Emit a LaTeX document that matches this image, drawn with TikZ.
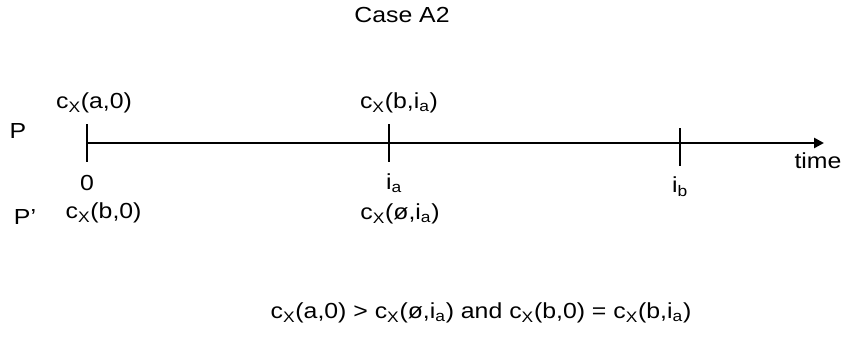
\documentclass[tikz,border=0pt]{standalone}
\usepackage{fontspec}
\setmainfont{Liberation Sans}[FakeStretch=1.14]
\usetikzlibrary{arrows.meta,positioning}
\newcommand{\cx}[1]{c\textsubscript{X}(#1)}
\begin{document}
\begin{tikzpicture}[font=\fontsize{15.5}{18}\selectfont,
  tick/.style={line width=2pt},
  lbl/.style={inner sep=1pt}]
  \useasboundingbox (0,0) rectangle (21.125,8.425);
  \node[lbl] (title) at (10.05,8.05) {Case A2};
  % time axis
  \coordinate (start) at (2.175,4.85);
  \coordinate (finish) at (20.6,4.85);
  \draw[line width=2pt,-{Triangle[length=7pt,width=7pt]}] (start) -- (finish);
  \coordinate (t0) at (2.175,4.85);
  \coordinate (ta) at (9.725,4.85);
  \coordinate (tb) at (17.0,4.75);
  \foreach \t in {t0,ta,tb}
    \draw[tick] ([yshift=-0.475cm]\t) -- ([yshift=0.475cm]\t);
  % labels
  \node[lbl] (p) at (0.45,5.15) {P};
  \node[lbl] (pp) at (0.625,3.0) {P’};
  \node[lbl] (ca0) at (2.35,5.85) {\cx{a,0}};
  \node[lbl] (zero) at (2.175,3.85) {0};
  \node[lbl] (cb0) at (2.59,3.1) {\cx{b,0}};
  \node[lbl] (cbia) at (9.975,5.85) {\cx{b,i\textsubscript{a}}};
  \node[lbl] (ia) at (9.85,3.85) {i\textsubscript{a}};
  \node[lbl] (cnia) at (10.0,3.075) {\cx{ø,i\textsubscript{a}}};
  \node[lbl] (ib) at (17.0,3.75) {i\textsubscript{b}};
  \node[lbl] (time) at (20.45,4.4) {time};
  \node[lbl] (rule) at (12.025,0.6)
    {\cx{a,0} > \cx{ø,i\textsubscript{a}} and \cx{b,0} = \cx{b,i\textsubscript{a}}};
\end{tikzpicture}
\end{document}
